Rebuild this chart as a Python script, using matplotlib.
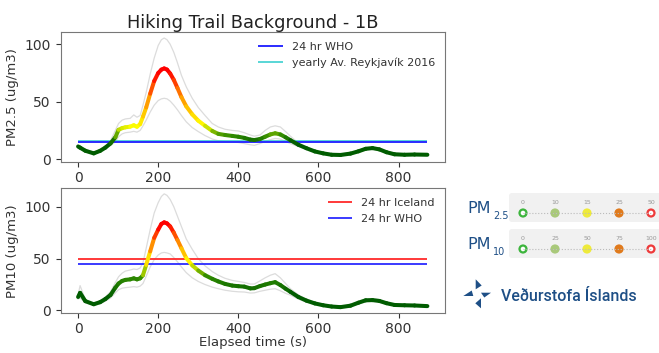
import numpy as np
import matplotlib
matplotlib.use("Agg")
import matplotlib.pyplot as plt
from matplotlib.collections import LineCollection
from matplotlib.colors import LinearSegmentedColormap
from matplotlib.patches import FancyBboxPatch, Circle, Polygon

###################################################################
#   Data
###################################################################

t = [0, 5, 18, 39, 55, 68, 81, 93, 101, 110, 118, 130, 139, 147, 155, 162, 170, 180,
     190, 200, 208, 215, 222, 230, 239, 248, 258, 270, 285, 300, 317, 335, 350, 367,
     385, 400, 415, 430, 440, 454, 467, 480, 492, 505, 518, 530, 550, 570, 591, 612,
     633, 655, 680, 700, 718, 735, 752, 770, 790, 815, 840, 872]

pm25_mean = [11, 10, 7.3, 5, 7.2, 10, 13.7, 19, 25.5, 27, 27.7, 28.3, 29.5, 28.2, 30.5,
             37, 45, 57, 68, 75, 78, 79, 78, 74.5, 69, 62, 54, 46, 39, 33.5, 29, 24.5,
             22, 21, 20.2, 19.5, 18.5, 17, 16.6, 17.5, 19.5, 21.5, 22.5, 21.5, 19, 16.5,
             12.5, 9.5, 6.7, 5, 3.8, 3.6, 4.8, 6.8, 9, 9.6, 8.5, 6, 4.2, 3.8, 4, 3.8]
pm25_upper = [12.5, 11.5, 8.5, 6, 8.5, 11.5, 16, 25, 31, 34, 35, 35.5, 38.5, 36.5, 38,
              47, 58, 74, 88, 99, 104, 105.5, 104, 100, 93, 84, 73, 63, 53, 45, 38, 31,
              28, 26, 25, 24.5, 23, 21, 20, 21, 25, 28, 29, 28, 24, 20, 14, 10.5, 7.5,
              5.8, 4.6, 4.4, 5.6, 7.8, 10, 10.5, 9.5, 7, 5, 4.6, 4.8, 4.6]
pm25_lower = [9.5, 8.5, 6.3, 4.2, 6.2, 8.8, 12, 15, 19.5, 22, 23, 23.5, 24.2, 23.5, 25,
              29, 34, 41, 47, 51, 52.5, 53, 52.5, 50.5, 47, 43, 38, 32.5, 27.5, 24, 20.5,
              17.5, 16, 15.2, 14.8, 14.5, 13.5, 12.5, 12, 13.5, 15.5, 17, 18, 17.5, 15.5,
              13.5, 11, 8.5, 6, 4.3, 3.1, 2.9, 4, 5.9, 8, 8.7, 7.6, 5.1, 3.5, 3.1, 3.3, 3.1]

pm10_mean = [13, 17, 9, 6, 8, 11, 15, 22, 26, 28.5, 29.5, 30, 31, 30, 31, 34, 44, 57, 70,
             78, 83.5, 85, 84, 81, 75, 68, 60, 50.5, 43.5, 38.5, 34, 30.5, 28, 25.6, 24,
             23.4, 23, 21.3, 21.5, 23.5, 25, 26.3, 27.3, 24.5, 21, 18, 13, 9.5, 6.8, 5,
             3.8, 3.2, 4.6, 7.5, 9.8, 10, 9.2, 7, 5.3, 5, 4.8, 4.2]
pm10_upper = [15, 24, 10.5, 7, 9.5, 13, 18, 27, 32.5, 36, 38, 39, 40, 39.5, 41, 46, 60,
              78, 94, 104, 110, 112.5, 111, 107, 100, 91, 81, 69, 59, 50, 43, 37.5, 34,
              31, 29, 28, 27, 25.5, 25.5, 28.5, 31.5, 34, 35.5, 31.5, 26, 21, 15, 11,
              7.8, 5.8, 4.5, 3.9, 5.4, 8.5, 11, 11.3, 10.4, 8, 6.1, 5.8, 5.6, 5]
pm10_lower = [11, 12, 7.5, 5, 6.5, 9, 12, 17, 20, 21.5, 22, 22.5, 23, 22.5, 23.5, 26, 33,
              42, 49, 53.5, 55.5, 56, 55.5, 54.5, 51, 47, 42, 36.5, 31.5, 28, 25, 22.5,
              21, 19.5, 18.5, 18, 17.8, 16.8, 17, 18.5, 19.5, 20.5, 21, 19, 16.5, 14.8,
              11, 8, 5.8, 4.2, 3.1, 2.6, 3.8, 6.5, 8.6, 8.8, 8, 6, 4.5, 4.2, 4, 3.4]

# reference levels
who_pm25 = 15
reykjavik_pm25 = 15.7
iceland_pm10 = 50
who_pm10 = 45

# scale bars on the right
scale_pm25 = ["0", "10", "15", "25", "50"]
scale_pm10 = ["0", "25", "50", "75", "100"]
scale_colors = ["#3db53d", "#a9c97a", "#eeea3a", "#e07a1c", "#ee3b3b"]

###################################################################
#   Helpers
###################################################################

cmap = LinearSegmentedColormap.from_list(
    "pm", ["#005c00", "#2f8a00", "#ffff00", "#ff9a00", "#ff0000"])


def colored_line(ax, x, y, breaks):
    x = np.asarray(x, float)
    y = np.asarray(y, float)
    pts = np.column_stack([x, y])
    segs = np.stack([pts[:-1], pts[1:]], axis=1)
    mid = (y[:-1] + y[1:]) / 2
    frac = np.interp(mid, breaks, [0, 0.25, 0.5, 0.75, 1.0])
    lc = LineCollection(segs, colors=cmap(frac), linewidths=2.9,
                        capstyle="round", joinstyle="round", zorder=3)
    ax.add_collection(lc)


def panel(ax, mean, upper, lower, breaks):
    ax.plot(t, upper, color="#dcdcdc", lw=0.9, zorder=2)
    ax.plot(t, lower, color="#dcdcdc", lw=0.9, zorder=2)
    colored_line(ax, t, mean, breaks)
    ax.tick_params(labelsize=10, colors="#333333")
    for s in ax.spines.values():
        s.set_color("#777777")


plt.rcParams["font.family"] = "DejaVu Sans"
fig = plt.figure(figsize=(6.59, 3.53), dpi=100)

###################################################################
#   PM2.5
###################################################################
ax1 = fig.add_axes([0.092, 0.542, 0.583, 0.367])
panel(ax1, pm25_mean, pm25_upper, pm25_lower, [14, 20, 29, 52, 75])
ax1.hlines(who_pm25, t[0], t[-1], color="#2b2bff", lw=1.4, label="24 hr WHO", zorder=2.5)
ax1.hlines(reykjavik_pm25, t[0], t[-1], color="#3ccfcf", lw=1.2,
           label="yearly Av. Reykjavík 2016", zorder=2.4)
ax1.set_ylabel("PM2.5 (ug/m3)", fontsize=9.5, color="#333333")
ax1.set_title("Hiking Trail Background - 1B", fontsize=12.8, color="#222222", pad=3)
ax1.set_yticks([0, 50, 100])
ax1.set_xticks([0, 200, 400, 600, 800])
ax1.margins(x=0.05, y=0.05)
ax1.legend(loc="upper right", frameon=False, fontsize=8, handlelength=2.2,
           labelcolor="#333333", borderaxespad=0.5)

###################################################################
#   PM10
###################################################################
ax2 = fig.add_axes([0.092, 0.112, 0.583, 0.355])
panel(ax2, pm10_mean, pm10_upper, pm10_lower, [15, 32, 45, 62, 82])
ax2.hlines(iceland_pm10, t[0], t[-1], color="#ff2a2a", lw=1.3, label="24 hr Iceland")
ax2.hlines(who_pm10, t[0], t[-1], color="#2b2bff", lw=1.3, label="24 hr WHO")
ax2.set_ylabel("PM10 (ug/m3)", fontsize=9.5, color="#333333")
ax2.tick_params(axis="x", pad=2.5)
ax2.set_xlabel("Elapsed time (s)", fontsize=9.5, color="#333333", labelpad=0.5)
ax2.set_yticks([0, 50, 100])
ax2.set_xticks([0, 200, 400, 600, 800])
ax2.margins(x=0.05, y=0.05)
ax2.legend(loc="upper right", frameon=False, fontsize=8, handlelength=2.2,
           labelcolor="#333333", borderaxespad=0.5)

###################################################################
#   Right-hand scale and logo (pixel coordinates)
###################################################################
ov = fig.add_axes([0, 0, 1, 1])
ov.set_xlim(0, 659)
ov.set_ylim(353, 0)
ov.axis("off")
ov.patch.set_alpha(0)

blue = "#1e4f86"
xs = [523, 555, 587, 619, 651]
for (labels, y0, sub) in [(scale_pm25, 193, "2.5"), (scale_pm10, 229, "10")]:
    ov.add_patch(FancyBboxPatch((509, y0), 160, 29, boxstyle="round,pad=0,rounding_size=3",
                                fc="#f1f1f1", ec="none"))
    cy = y0 + 20
    ov.plot([xs[0], xs[-1]], [cy, cy], ls=":", color="#bbbbbb", lw=0.8)
    for x, lab, c in zip(xs, labels, scale_colors):
        ov.add_patch(Circle((x, cy), 4.6, fc=c, ec="none"))
        if c in (scale_colors[0], scale_colors[-1]):
            ov.add_patch(Circle((x, cy), 2.3, fc="white", ec="none"))
        ov.text(x, y0 + 9, lab, fontsize=4.5, color="#999999", ha="center", va="center")
    ov.text(467, y0 + 20, "PM", fontsize=11.5, color=blue, ha="left", va="baseline")
    ov.text(493, y0 + 26, sub, fontsize=7, color=blue, ha="left", va="baseline")

# logo
tris = [
    [(475.7, 279.3), (475.7, 289.3), (481.7, 285.5)],
    [(463.3, 296.0), (473.3, 296.0), (471.7, 290.5)],
    [(481.0, 292.7), (491.0, 292.7), (484.3, 297.5)],
    [(481.0, 298.3), (481.0, 308.3), (475.3, 303.3)],
]
for tri in tris:
    ov.add_patch(Polygon(tri, closed=True, fc=blue, ec="none"))
ov.text(501, 301, "Veðurstofa Íslands", fontsize=11.5, color=blue, ha="left",
        va="baseline", family="Roboto", fontweight="medium")

fig.savefig("out.png", dpi=100)
